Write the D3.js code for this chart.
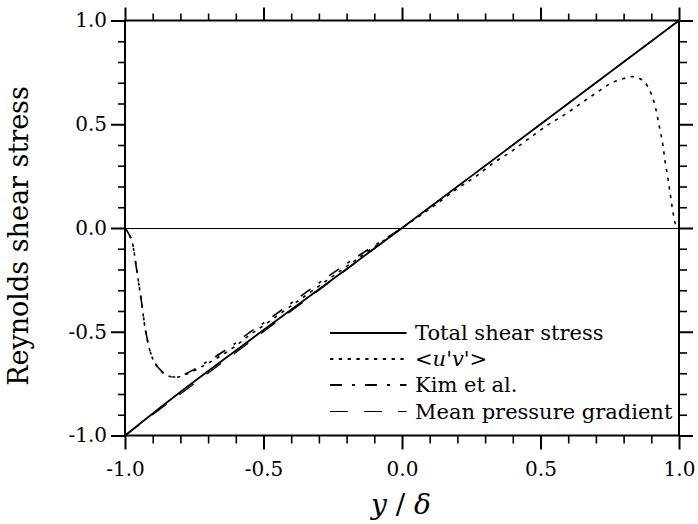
<!DOCTYPE html>
<html>
<head>
<meta charset="utf-8">
<script src="https://cdn.jsdelivr.net/npm/d3@7"></script>
<style>
  html, body { margin: 0; padding: 0; background: #fff; }
  svg { display: block; }
</style>
</head>
<body>
<svg id="chart" width="698" height="524" font-family="DejaVu Serif"></svg>
<script>
// ---- data ----
const xTicksMajor = [-1.0, -0.5, 0.0, 0.5, 1.0];
const yTicksMajor = [-1.0, -0.5, 0.0, 0.5, 1.0];
const tickLabels = ["-1.0", "-0.5", "0.0", "0.5", "1.0"];

const totalX = [-1.0, -0.8, -0.5, 0.0, 0.5, 1.0];
const totalY = [-1.0, -0.79, -0.492, 0.0, 0.5, 1.0];

const mpgX = [-1.0, 1.0];
const mpgY = [-1.0, 1.0];

const uvX = [-1.0, -0.99, -0.976, -0.958, -0.94, -0.922, -0.898, -0.868, -0.837, -0.815, -0.777, -0.717, -0.656, -0.596, -0.55, -0.5, -0.4, -0.3, -0.2, -0.1, 0.0,
             0.1, 0.2, 0.268, 0.328, 0.394, 0.454, 0.526, 0.586, 0.646, 0.70, 0.754, 0.80, 0.838, 0.874, 0.899, 0.917, 0.929, 0.941, 0.949, 0.959, 0.968, 0.977, 0.989, 1.0];
const uvY = [0.0, -0.02, -0.058, -0.2, -0.36, -0.524, -0.636, -0.692, -0.716, -0.72, -0.704, -0.664, -0.617, -0.564, -0.516, -0.47, -0.375, -0.28, -0.185, -0.092, 0.0,
             0.092, 0.19, 0.25, 0.312, 0.368, 0.427, 0.496, 0.545, 0.601, 0.65, 0.697, 0.72, 0.729, 0.705, 0.649, 0.569, 0.488, 0.408, 0.328, 0.247, 0.167, 0.087, 0.014, 0.0];

const kimX = [-1.0, -0.99, -0.976, -0.958, -0.94, -0.922, -0.898, -0.868, -0.837, -0.815, -0.777, -0.717, -0.656, -0.596, -0.55, -0.5, -0.4, -0.3, -0.2, -0.1, 0.0];
const kimY = [0.0, -0.02, -0.06, -0.2, -0.36, -0.52, -0.635, -0.69, -0.714, -0.718, -0.70, -0.655, -0.605, -0.55, -0.503, -0.458, -0.362, -0.265, -0.172, -0.085, 0.0];

const legendLabels = ["Total shear stress", "<u'v'>", "Kim et al.", "Mean pressure gradient"];

// ---- layout ----
const FONT = "DejaVu Serif";
const svg = d3.select("#chart");
const mLeft = 125, mRight = 679, mTop = 20.5, mBottom = 435.5;
const x = d3.scaleLinear().domain([-1, 1]).range([mLeft, mRight]);
const y = d3.scaleLinear().domain([-1, 1]).range([mBottom, mTop]);

const minor = d3.range(-10, 11).map(d => d / 10).filter(d => Math.abs(d * 2 - Math.round(d * 2)) > 1e-6);
const fmt = d => tickLabels[xTicksMajor.findIndex(v => Math.abs(v - d) < 1e-9)];

// zero line
svg.append("line")
  .attr("x1", x(-1)).attr("x2", x(1))
  .attr("y1", y(0) + 0.5).attr("y2", y(0) + 0.5)
  .attr("stroke", "#000").attr("stroke-width", 1)
  .attr("shape-rendering", "crispEdges");

// axes with major ticks (outward)
function styleAxis(g, w) {
  g.select(".domain").remove();
  g.attr("font-family", FONT);
  g.selectAll(".tick line").attr("stroke", "#000").attr("stroke-width", w);
}
const axB = d3.axisBottom(x).tickValues(xTicksMajor).tickSize(14).tickPadding(12).tickFormat(fmt);
const gB = svg.append("g").attr("transform", `translate(0,${mBottom})`).call(axB);
styleAxis(gB, 2);
gB.selectAll("text").attr("font-size", 20).attr("font-family", FONT).attr("fill", "#000");

const axL = d3.axisLeft(y).tickValues(yTicksMajor).tickSize(14).tickPadding(4).tickFormat(fmt);
const gL = svg.append("g").attr("transform", `translate(${mLeft},0)`).call(axL);
styleAxis(gL, 2);
gL.selectAll("text").attr("font-size", 20).attr("font-family", FONT).attr("fill", "#000");

const gT = svg.append("g").attr("transform", `translate(0,${mTop})`).call(d3.axisTop(x).tickValues(xTicksMajor).tickSize(13).tickFormat(""));
styleAxis(gT, 2);
const gR = svg.append("g").attr("transform", `translate(${mRight},0)`).call(d3.axisRight(y).tickValues(yTicksMajor).tickSize(14).tickFormat(""));
styleAxis(gR, 2);

// minor ticks
const gBm = svg.append("g").attr("transform", `translate(0,${mBottom})`).call(d3.axisBottom(x).tickValues(minor).tickSize(8).tickFormat(""));
styleAxis(gBm, 1.6);
const gTm = svg.append("g").attr("transform", `translate(0,${mTop})`).call(d3.axisTop(x).tickValues(minor).tickSize(7).tickFormat(""));
styleAxis(gTm, 1.6);
const gLm = svg.append("g").attr("transform", `translate(${mLeft},0)`).call(d3.axisLeft(y).tickValues(minor).tickSize(7).tickFormat(""));
styleAxis(gLm, 1.6);
const gRm = svg.append("g").attr("transform", `translate(${mRight},0)`).call(d3.axisRight(y).tickValues(minor).tickSize(8).tickFormat(""));
styleAxis(gRm, 1.6);

// frame
svg.append("rect")
  .attr("x", mLeft).attr("y", mTop)
  .attr("width", mRight - mLeft).attr("height", mBottom - mTop)
  .attr("fill", "none").attr("stroke", "#000").attr("stroke-width", 2);

// ---- curves ----
const line = d3.line().x(d => x(d[0])).y(d => y(d[1])).curve(d3.curveCatmullRom.alpha(0.5));
const zip = (a, b) => a.map((v, i) => [v, b[i]]);

const series = [
  { pts: zip(mpgX, mpgY), dash: "18,16", w: 1.2 },
  { pts: zip(kimX, kimY), dash: "12,10,3,10", w: 1.6 },
  { pts: zip(uvX, uvY), dash: "3.3,5.5", w: 1.6 },
  { pts: zip(totalX, totalY), dash: null, w: 1.8 }
];
series.forEach(s => {
  svg.append("path")
    .attr("d", line(s.pts))
    .attr("fill", "none").attr("stroke", "#000")
    .attr("stroke-width", s.w)
    .attr("stroke-dasharray", s.dash);
});

// ---- legend ----
const legendStyles = [
  { dash: null, w: 2 },
  { dash: "3.3,5.5", w: 2 },
  { dash: "12,10,3,10", w: 2 },
  { dash: "18,16", w: 1 }
];
const legY = [333, 359, 385, 411.5];
legendLabels.forEach((lab, i) => {
  svg.append("line")
    .attr("x1", 330).attr("x2", 406.5)
    .attr("y1", legY[i]).attr("y2", legY[i])
    .attr("stroke", "#000").attr("stroke-width", legendStyles[i].w)
    .attr("stroke-dasharray", legendStyles[i].dash);
  const t = svg.append("text").attr("x", 415).attr("y", Math.round(legY[i]) + 7)
    .attr("font-size", 21).attr("font-family", FONT).attr("fill", "#000");
  if (i === 1) {
    t.append("tspan").text("<");
    t.append("tspan").attr("font-style", "italic").text("u");
    t.append("tspan").text("'");
    t.append("tspan").attr("font-style", "italic").text("v");
    t.append("tspan").text("'>");
  } else {
    t.text(lab);
  }
});

// ---- axis titles ----
const xt = svg.append("text").attr("x", 401).attr("y", 514).attr("text-anchor", "middle")
  .attr("font-size", 28).attr("font-family", FONT).attr("fill", "#000");
xt.append("tspan").attr("font-style", "italic").text("y");
xt.append("tspan").text(" / ");
xt.append("tspan").attr("font-style", "italic").text("\u03B4");

svg.append("text")
  .attr("transform", `translate(28,236) rotate(-90)`)
  .attr("text-anchor", "middle")
  .attr("font-size", 27).attr("font-family", FONT).attr("fill", "#000")
  .text("Reynolds shear stress");
</script>
</body>
</html>
